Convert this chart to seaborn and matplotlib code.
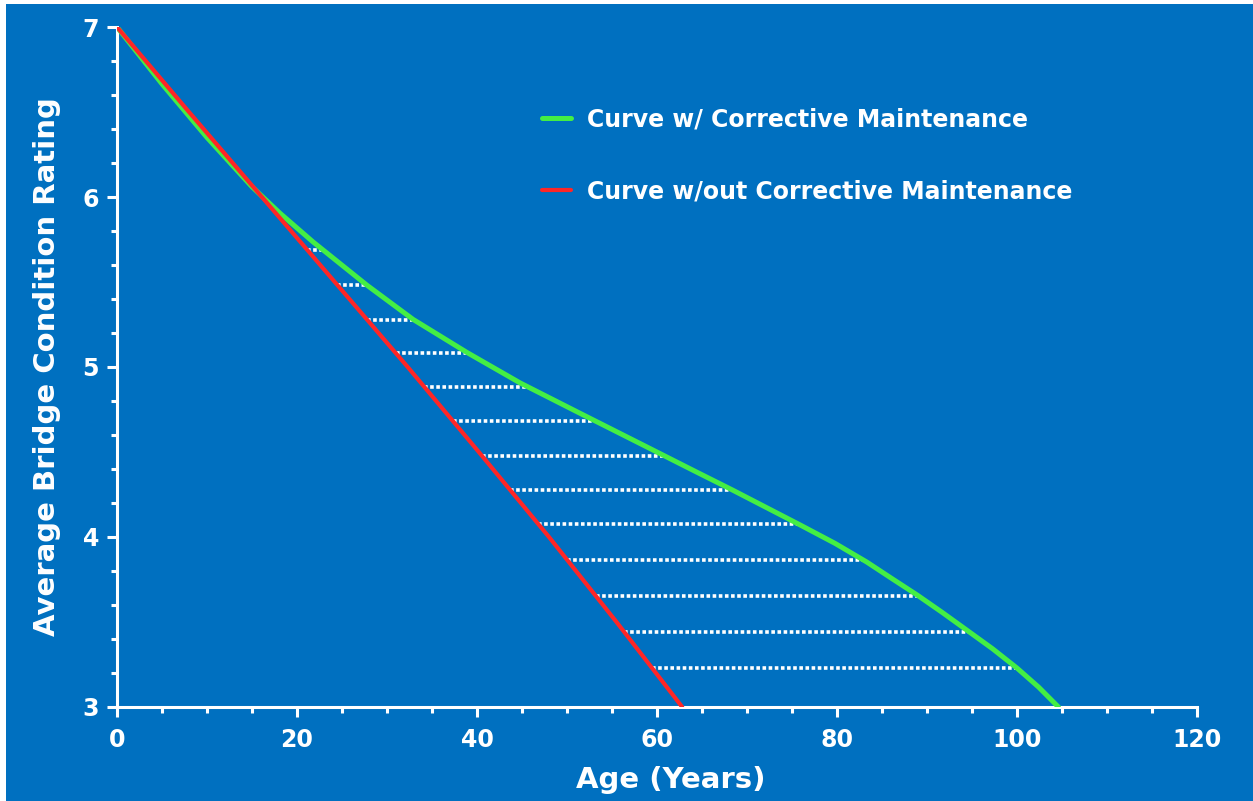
import numpy as np
import matplotlib
matplotlib.use("Agg")
import matplotlib.pyplot as plt
import seaborn as sns
import pandas as pd
from matplotlib.patches import Rectangle
from matplotlib.ticker import MultipleLocator

# values
green_age = [0, 5, 10, 15, 18.1, 21.8, 27.8, 32.9, 38.9, 44.8, 51.4, 58.9,
             64.4, 68.4, 75.9, 79.8, 83.3, 86.2, 88.9, 91.7, 94.4, 97.3, 100, 102.4, 104.6]
green_rating = [7.0, 6.665, 6.35, 6.06, 5.905, 5.735, 5.48, 5.28, 5.085, 4.906, 4.729, 4.529,
                4.382, 4.276, 4.071, 3.962, 3.853, 3.752, 3.659, 3.556, 3.453, 3.342, 3.229, 3.117, 3.0]
red_age = [0, 8, 16.1, 24.2, 32.3, 40.2, 48.0, 55.5, 62.8]
red_rating = [7.0, 6.5, 6.0, 5.5, 5.0, 4.5, 4.0, 3.5, 3.0]
gap_levels = [5.688, 5.482, 5.276, 5.082, 4.882, 4.682, 4.476, 4.276, 4.076, 3.865, 3.653, 3.441, 3.229]

label_green = "Curve w/ Corrective Maintenance"
label_red = "Curve w/out Corrective Maintenance"

BLUE = "#0070c0"
GREEN = "#44ee44"
RED = "#ff2626"

sns.set_style("white")
plt.rcParams["font.family"] = ["DejaVu Sans"]
plt.rcParams["font.weight"] = "bold"

fig = plt.figure(figsize=(12.53, 8.01), dpi=100)
fig.patch.set_facecolor("white")
fig.patches.append(Rectangle((6 / 1253, 0), 1 - 6 / 1253, 1 - 4 / 801,
                             transform=fig.transFigure, facecolor=BLUE,
                             edgecolor="none", zorder=-10))

ax = fig.add_axes([117 / 1253, 94 / 801, 1080 / 1253, 680 / 801])
ax.set_facecolor(BLUE)

df = pd.concat([
    pd.DataFrame({"age": green_age, "rating": green_rating, "curve": label_green}),
    pd.DataFrame({"age": red_age, "rating": red_rating, "curve": label_red}),
])

# hatch lines between the two curves
starts = np.interp(gap_levels, red_rating[::-1], red_age[::-1])
ends = np.interp(gap_levels, green_rating[::-1], green_age[::-1])
ax.hlines(gap_levels, starts, ends, colors="white", linewidth=2.6,
          linestyles=(0, (1.0, 0.7)), zorder=1)

sns.lineplot(data=df, x="age", y="rating", hue="curve", sort=False,
             palette={label_green: GREEN, label_red: RED}, ax=ax,
             linewidth=3.6, zorder=3)
for line in ax.lines:
    if line.get_color() == RED:
        line.set_linewidth(3.0)
    line.set_solid_joinstyle("round")

ax.set_xlim(0, 120)
ax.set_ylim(3, 7)
ax.xaxis.set_major_locator(MultipleLocator(20))
ax.xaxis.set_minor_locator(MultipleLocator(5))
ax.yaxis.set_major_locator(MultipleLocator(1))
ax.yaxis.set_minor_locator(MultipleLocator(0.2))

for side in ["top", "right"]:
    ax.spines[side].set_visible(False)
for side in ["left", "bottom"]:
    ax.spines[side].set_color("white")
    ax.spines[side].set_linewidth(2.2)

ax.tick_params(which="major", direction="out", length=7, width=2.2, colors="white",
               labelsize=17, bottom=True, left=True)
ax.tick_params(which="minor", direction="out", length=4, width=2.2, colors="white",
               bottom=True, left=True)
ax.tick_params(axis="x", pad=8)
ax.tick_params(axis="y", pad=6)
for lab in ax.get_xticklabels() + ax.get_yticklabels():
    lab.set_fontweight("bold")

ax.set_xlabel("Age (Years)", fontsize=21, fontweight="bold", color="white")
ax.xaxis.set_label_coords(0.513, -0.087)
ax.set_ylabel("Average Bridge Condition Rating", fontsize=21, fontweight="bold",
              color="white")
ax.yaxis.set_label_coords(-0.052, 0.5)

leg = ax.legend(loc="upper left", bbox_to_anchor=(521 / 1253, 1 - 86 / 801),
                bbox_transform=fig.transFigure, frameon=False,
                handlelength=1.2, handletextpad=0.7, labelspacing=2.05,
                labelcolor="white", prop={"weight": "bold", "size": 17})

fig.savefig("out.png", dpi=100, facecolor=fig.get_facecolor())
